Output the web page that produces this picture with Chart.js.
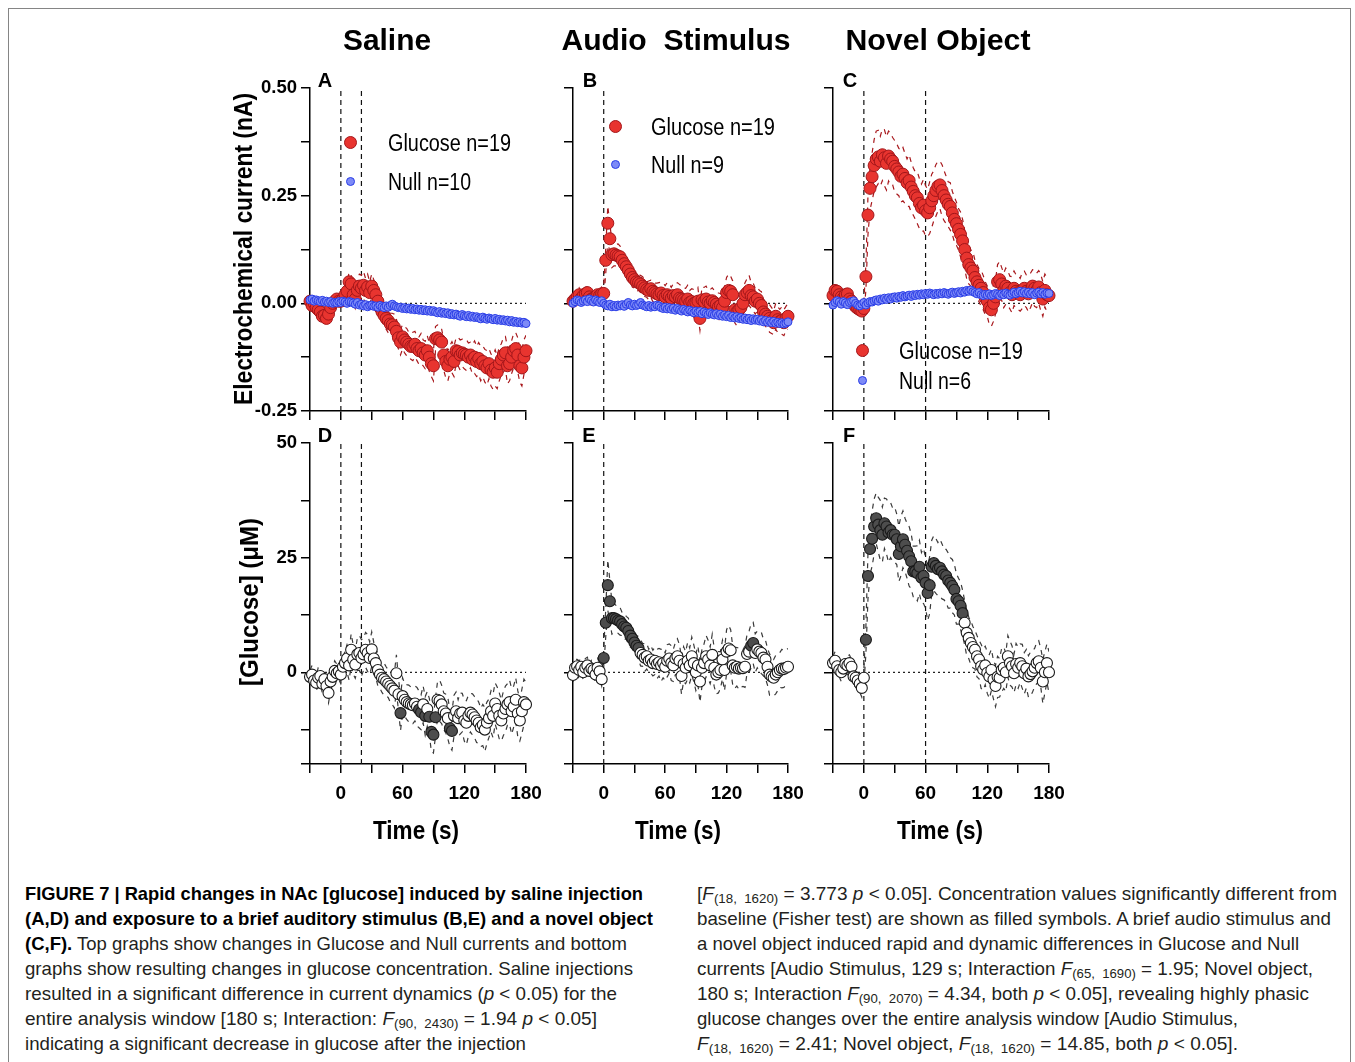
<!DOCTYPE html>
<html>
<head>
<meta charset="utf-8">
<script src="https://cdn.jsdelivr.net/npm/chart.js@4.4.1/dist/chart.umd.min.js"></script>
<style>
  html, body { margin:0; padding:0; background:#fff; width:1355px; height:1062px; overflow:hidden; position:relative; }
  .frame { position:absolute; left:8px; top:8px; width:1343px; height:1100px; border:1.5px solid #858585; box-sizing:border-box; }
  .t { position:absolute; white-space:pre; line-height:1; }
  .title { font-family:'Liberation Sans', Arial, sans-serif; font-weight:bold; font-size:30px; color:#000; }
  .narrowb { font-family:'Liberation Sans', Arial, sans-serif; font-weight:bold; color:#000; }
  .narrow { font-family:'Liberation Sans', Arial, sans-serif; color:#000; }
  .letter { font-family:'Liberation Sans', Arial, sans-serif; font-weight:bold; font-size:20px; color:#000; }
  .cap { font-family:'Liberation Sans', Arial, sans-serif; font-size:19px; color:#231f20; }
  .cap b { color:#000; }
  .cap sub { font-size:70%; vertical-align:-0.3em; line-height:0; }
  .dot { position:absolute; border-radius:50%; box-sizing:border-box; }
  canvas { position:absolute; }
</style>
</head>
<body>
<div class="frame"></div>
<script>
// ---------------- DATA ----------------
const TIME = [-30,-28,-26,-24,-22,-20,-18,-16,-14,-12,
  -10,-8,-6,-4,-2,0,2,4,6,8,
  10,12,14,16,18,20,22,24,26,28,
  30,32,34,36,38,40,42,44,46,48,
  50,52,54,56,58,60,62,64,66,68,
  70,72,74,76,78,80,82,84,86,88,
  90,92,94,96,98,100,102,104,106,108,
  110,112,114,116,118,120,122,124,126,128,
  130,132,134,136,138,140,142,144,146,148,
  150,152,154,156,158,160,162,164,166,168,
  170,172,174,176,178,180];

const X_TICK_LABELS = [0, 60, 120, 180];
const Y_TICK_LABELS_CURRENT = [-0.25, 0, 0.25, 0.5];
const Y_TICK_LABELS_GLUCOSE = [0, 25, 50];

// Saline (A): Glucose current, SEM, Null current (nA)
const glucoseA = [0.005,-0.005,0.000,-0.010,-0.015,-0.020,-0.030,-0.028,-0.035,-0.025,
  -0.010,0.000,0.005,0.010,0.005,0.005,0.010,0.020,0.028,0.050,
  0.045,0.020,0.010,0.030,0.040,0.035,0.042,0.030,0.038,0.025,
  0.040,0.030,0.020,0.005,-0.010,-0.020,-0.028,-0.035,-0.040,-0.048,
  -0.050,-0.055,-0.065,-0.080,-0.090,-0.078,-0.085,-0.090,-0.095,-0.100,
  -0.100,-0.095,-0.105,-0.110,-0.105,-0.115,-0.120,-0.110,-0.125,-0.140,
  -0.145,-0.082,-0.080,-0.085,-0.090,-0.120,-0.135,-0.145,-0.130,-0.125,
  -0.135,-0.110,-0.112,-0.120,-0.115,-0.118,-0.120,-0.125,-0.120,-0.130,
  -0.125,-0.135,-0.128,-0.140,-0.135,-0.145,-0.150,-0.140,-0.155,-0.160,
  -0.150,-0.160,-0.140,-0.130,-0.120,-0.115,-0.145,-0.140,-0.125,-0.110,
  -0.105,-0.120,-0.145,-0.150,-0.125,-0.110];
const semA = [.012,.015,.010,.014,.012,.013,.015,.012,.014,.013,
  .012,.010,.014,.012,.011,.013,.015,.018,.020,.022,
  .020,.018,.022,.025,.028,.030,.032,.028,.030,.025,
  .028,.025,.022,.020,.022,.024,.022,.025,.028,.025,
  .027,.030,.028,.026,.030,.028,.030,.032,.028,.030,
  .033,.030,.028,.032,.035,.030,.032,.035,.033,.030,
  .035,.028,.030,.032,.030,.035,.038,.035,.032,.036,
  .035,.030,.033,.035,.032,.034,.036,.033,.030,.035,
  .038,.035,.037,.040,.036,.038,.040,.035,.037,.040,
  .042,.038,.040,.036,.040,.038,.042,.040,.038,.040,
  .037,.040,.038,.042,.040,.036];
const nullA = [0.008,0.010,0.005,0.008,0.006,0.004,0.007,0.003,0.005,0.002,
  0.004,0.000,0.002,0.001,0.004,0.002,0.005,0.003,0.000,0.004,
  0.003,0.001,-0.002,0.002,-0.004,-0.002,-0.006,-0.003,-0.008,-0.005,
  -0.004,-0.007,-0.006,-0.009,-0.005,-0.008,-0.010,-0.006,-0.009,-0.005,
  -0.002,-0.006,-0.008,-0.010,-0.009,-0.012,-0.010,-0.013,-0.011,-0.014,
  -0.012,-0.015,-0.013,-0.016,-0.014,-0.017,-0.015,-0.018,-0.016,-0.019,
  -0.017,-0.020,-0.022,-0.019,-0.023,-0.021,-0.024,-0.022,-0.026,-0.024,
  -0.027,-0.025,-0.028,-0.030,-0.026,-0.029,-0.031,-0.028,-0.032,-0.030,
  -0.033,-0.031,-0.034,-0.036,-0.032,-0.035,-0.037,-0.034,-0.036,-0.038,
  -0.035,-0.039,-0.037,-0.040,-0.038,-0.041,-0.039,-0.043,-0.040,-0.044,
  -0.042,-0.045,-0.043,-0.046,-0.044,-0.047];

// Audio stimulus (B)
const glucoseB = [0.005,0.010,0.015,0.020,0.012,0.018,0.022,0.025,0.015,0.010,
  0.012,0.015,0.020,0.018,0.022,0.023,0.100,0.186,0.150,0.113,
  0.115,0.112,0.110,0.108,0.100,0.092,0.085,0.077,0.068,0.060,
  0.055,0.050,0.048,0.045,0.040,0.036,0.032,0.030,0.034,0.028,
  0.025,0.022,0.020,0.024,0.018,0.015,0.020,0.016,0.012,0.018,
  0.015,0.020,0.012,0.010,0.008,0.005,0.010,0.002,0.004,0.000,
  0.002,0.005,-0.035,0.008,0.004,0.010,0.003,0.000,0.006,0.002,
  -0.002,-0.008,-0.005,-0.010,0.005,0.025,0.030,0.028,0.020,-0.015,
  -0.020,-0.015,-0.010,0.000,0.020,0.025,0.030,0.018,0.015,0.005,
  0.010,0.000,-0.005,-0.020,-0.025,-0.030,-0.035,-0.040,-0.045,-0.030,
  -0.038,-0.042,-0.040,-0.045,-0.035,-0.030];
const semB = [.012,.015,.013,.016,.014,.012,.015,.013,.014,.012,
  .013,.015,.012,.014,.016,.015,.030,.040,.035,.030,
  .028,.025,.028,.025,.022,.020,.024,.022,.020,.022,
  .020,.022,.018,.020,.022,.020,.018,.022,.020,.024,
  .022,.025,.028,.025,.030,.026,.028,.030,.025,.028,
  .030,.028,.032,.030,.028,.030,.032,.028,.030,.032,
  .030,.032,.028,.030,.033,.030,.028,.032,.030,.028,
  .030,.032,.028,.030,.033,.035,.038,.035,.032,.030,
  .032,.030,.034,.030,.028,.032,.035,.030,.032,.030,
  .028,.030,.032,.030,.028,.030,.032,.030,.028,.030,
  .030,.028,.032,.030,.028,.030];
const nullB = [0.000,0.004,0.008,0.006,0.002,0.005,0.008,0.004,0.010,0.006,
  0.003,0.008,0.005,0.002,0.006,0.000,-0.004,-0.006,-0.002,-0.008,
  -0.005,-0.008,-0.004,-0.006,-0.003,-0.007,-0.002,0.002,-0.004,-0.006,
  -0.002,-0.005,-0.003,0.002,-0.004,-0.006,-0.008,-0.005,-0.009,-0.006,
  -0.008,-0.004,-0.006,-0.010,-0.012,-0.009,-0.013,-0.010,-0.014,-0.011,
  -0.016,-0.012,-0.015,-0.018,-0.014,-0.017,-0.020,-0.016,-0.019,-0.022,
  -0.018,-0.021,-0.019,-0.024,-0.020,-0.023,-0.026,-0.022,-0.025,-0.027,
  -0.024,-0.028,-0.025,-0.030,-0.027,-0.031,-0.028,-0.033,-0.030,-0.034,
  -0.031,-0.035,-0.033,-0.037,-0.034,-0.038,-0.035,-0.040,-0.036,-0.039,
  -0.037,-0.041,-0.038,-0.043,-0.040,-0.044,-0.041,-0.045,-0.042,-0.046,
  -0.044,-0.047,-0.045,-0.048,-0.046,-0.043];

// Novel object (C)
const glucoseC = [0.018,0.030,0.028,0.020,0.015,0.012,0.020,0.022,0.010,0.005,
  -0.002,-0.008,-0.012,-0.015,-0.018,-0.012,0.062,0.205,0.267,0.294,
  0.320,0.335,0.340,0.330,0.345,0.338,0.325,0.342,0.335,0.330,
  0.318,0.312,0.305,0.295,0.300,0.290,0.280,0.285,0.270,0.260,
  0.250,0.245,0.232,0.222,0.228,0.215,0.210,0.222,0.238,0.250,
  0.262,0.272,0.275,0.262,0.250,0.240,0.230,0.225,0.210,0.195,
  0.185,0.172,0.160,0.145,0.125,0.105,0.090,0.082,0.075,0.060,
  0.050,0.042,0.035,0.025,0.012,0.005,-0.010,-0.015,0.000,0.015,
  0.050,0.055,0.045,0.030,0.040,0.035,0.025,0.020,0.035,0.028,
  0.025,0.020,0.030,0.035,0.028,0.022,0.030,0.040,0.035,0.030,
  0.038,0.025,0.010,0.030,0.020,0.018];
const semC = [.012,.015,.012,.014,.012,.015,.013,.012,.014,.012,
  .012,.014,.015,.012,.014,.015,.030,.045,.050,.055,
  .060,.065,.062,.058,.060,.065,.062,.058,.060,.055,
  .060,.058,.055,.060,.062,.058,.055,.060,.058,.055,
  .055,.060,.058,.055,.060,.058,.055,.060,.062,.058,
  .060,.058,.055,.060,.058,.055,.052,.055,.050,.052,
  .050,.048,.052,.050,.045,.048,.045,.042,.045,.040,
  .040,.038,.042,.040,.038,.035,.040,.038,.042,.040,
  .040,.042,.038,.040,.042,.040,.038,.042,.040,.038,
  .040,.038,.042,.040,.038,.042,.040,.038,.042,.040,
  .038,.042,.040,.038,.040,.042];
const nullC = [-0.004,0.002,0.006,0.003,-0.002,0.004,0.001,-0.003,0.002,0.004,
  0.006,0.000,-0.004,-0.006,-0.002,0.002,-0.004,0.001,0.004,0.003,
  0.006,0.008,0.005,0.010,0.008,0.012,0.009,0.013,0.010,0.014,
  0.015,0.012,0.016,0.014,0.018,0.015,0.017,0.019,0.016,0.020,
  0.018,0.021,0.019,0.022,0.020,0.023,0.021,0.024,0.022,0.020,
  0.023,0.021,0.024,0.022,0.025,0.023,0.021,0.024,0.026,0.023,
  0.025,0.027,0.024,0.028,0.026,0.030,0.028,0.031,0.027,0.025,
  0.022,0.025,0.020,0.018,0.021,0.019,0.022,0.018,0.020,0.023,
  0.021,0.018,0.022,0.020,0.024,0.021,0.019,0.023,0.026,0.022,
  0.025,0.028,0.024,0.027,0.023,0.026,0.022,0.025,0.020,0.024,
  0.026,0.022,0.025,0.021,0.024,0.023];

// [Glucose] (uM), SEM, and times of filled (significant) symbols
const concD = [-1.0,-0.5,-1.8,-2.3,-1.2,-0.8,-2.5,-1.5,-3.0,-4.5,
  -2.0,-1.0,0.3,-0.2,0.2,-0.5,1.2,2.0,3.0,1.5,
  4.9,2.8,1.7,3.9,4.2,3.1,3.9,4.9,4.2,3.1,
  5.0,3.0,2.0,0.5,-0.5,-1.2,-1.5,-2.0,-2.5,-3.0,
  -3.5,-4.0,-0.2,-4.8,-8.9,-5.2,-6.0,-6.5,-6.8,-7.0,
  -7.2,-6.8,-7.5,-8.1,-8.7,-7.0,-9.5,-8.0,-9.7,-13.0,
  -13.6,-9.8,-6.0,-6.2,-7.0,-8.5,-9.0,-10.0,-12.2,-12.8,
  -9.5,-8.5,-10.0,-9.0,-8.8,-10.5,-11.0,-9.5,-8.8,-9.2,
  -9.8,-10.5,-11.0,-12.0,-11.5,-12.5,-11.0,-10.0,-8.5,-9.5,
  -6.8,-8.0,-9.5,-10.5,-9.0,-8.0,-7.0,-6.5,-8.5,-7.5,
  -6.0,-9.0,-10.5,-8.5,-6.5,-7.0];
const semD = [1.5,2.0,1.8,1.5,2.2,1.8,2.0,1.5,1.8,2.2,
  2.0,1.8,2.2,2.0,1.8,2.0,2.2,2.5,3.0,3.2,
  3.5,3.2,3.0,3.5,3.8,4.0,3.5,3.8,4.0,3.5,
  3.8,3.5,3.2,3.5,3.0,3.2,3.5,3.2,3.0,3.5,
  3.5,3.8,4.0,3.5,3.8,4.0,3.5,3.8,4.0,3.8,
  4.0,3.8,4.2,4.0,3.8,4.0,4.2,3.8,4.0,4.2,
  4.0,4.2,4.0,4.5,4.2,4.0,4.2,4.5,4.0,4.2,
  4.5,4.2,4.0,4.5,4.2,4.5,4.8,4.5,4.2,4.5,
  4.5,4.8,4.5,4.2,4.5,4.8,4.5,4.2,4.5,4.8,
  4.5,4.8,5.0,4.5,4.8,5.0,4.5,4.8,5.0,4.5,
  4.8,5.0,4.5,4.8,5.0,4.8];
const filledD = [58,76,78,82,86,88,90,92,106,108];

const concE = [-0.6,1.0,1.3,0.5,1.2,0.0,1.0,1.5,0.3,0.8,
  0.5,-0.5,1.0,0.2,-1.5,3.1,10.8,19.0,15.5,11.8,
  11.8,11.6,11.3,11.1,10.5,10.0,9.7,9.0,8.0,7.3,
  6.5,5.8,5.3,4.2,3.8,3.2,3.5,2.5,2.8,2.0,
  2.5,1.8,2.2,1.5,2.0,1.2,2.5,3.0,2.0,1.5,
  3.0,3.5,2.5,-0.8,1.8,1.0,2.5,1.5,3.5,2.0,
  0.0,1.5,-2.0,1.0,2.0,3.5,2.8,1.5,3.8,1.0,
  -0.5,0.0,0.5,2.8,0.5,4.5,5.2,4.8,1.5,1.0,
  1.2,0.8,1.0,0.9,1.2,4.0,4.5,5.8,6.4,4.2,
  5.0,4.5,4.2,3.2,2.8,1.2,-0.5,-0.9,-1.2,-0.5,
  0.0,0.5,0.8,0.7,1.0,1.2];
const semE = [1.5,1.8,1.5,2.0,1.8,1.5,2.0,1.8,1.5,1.8,
  1.5,1.8,2.0,1.8,1.5,2.0,3.0,5.5,4.5,3.5,
  3.2,3.0,2.8,3.0,2.5,2.8,2.5,2.8,2.5,2.2,
  2.5,2.2,2.5,2.8,2.5,3.0,2.8,2.5,3.0,2.8,
  3.0,3.2,3.0,3.5,3.2,3.0,3.5,3.2,3.8,3.5,
  3.5,3.8,3.5,4.0,3.8,3.5,4.0,3.8,4.2,4.0,
  4.0,4.2,4.5,4.0,4.2,4.5,4.2,4.0,4.5,4.2,
  4.2,4.5,4.0,4.2,4.5,4.8,5.0,4.5,4.2,4.5,
  4.2,4.5,4.2,4.0,4.5,4.2,4.5,4.8,4.5,4.2,
  4.0,4.2,4.5,4.0,4.2,4.0,4.5,4.2,4.0,4.2,
  4.0,3.8,4.2,4.0,3.8,4.0];
const filledE = [0,2,4,6,8,10,12,14,16,18,20,22,24,26,28,30,32,34,144,146];

const concF = [2.0,2.5,1.3,0.5,0.0,0.8,1.8,1.5,2.0,1.2,
  -0.9,-1.2,-1.8,-2.5,-3.4,-1.2,7.1,21.0,26.9,29.1,
  31.8,33.6,32.2,31.0,30.0,32.5,31.8,30.5,31.0,30.0,
  30.0,29.0,25.8,27.5,29.0,27.8,26.5,25.3,24.2,22.0,
  22.0,21.6,23.0,20.6,21.0,19.5,17.3,19.0,23.0,23.8,
  23.2,22.5,22.8,22.0,21.3,21.0,20.0,19.5,18.8,18.0,
  16.0,15.5,14.5,12.9,10.8,8.6,7.5,6.4,5.5,4.9,
  3.5,2.8,1.3,0.6,1.5,-0.1,-0.9,0.5,-1.6,-3.0,
  -1.0,-1.2,0.5,1.0,0.0,3.5,2.0,1.3,-0.2,1.8,
  1.0,2.0,1.3,-0.2,0.8,-0.9,-0.4,0.2,1.0,2.0,
  2.4,1.0,-2.0,0.0,2.0,0.0];
const semF = [1.5,2.0,1.8,1.5,2.0,1.8,1.5,2.0,1.8,1.5,
  1.8,2.0,1.5,1.8,2.0,1.8,3.0,5.0,5.5,6.0,
  6.0,5.5,6.0,6.5,6.0,5.5,6.0,6.5,6.0,5.8,
  6.0,5.5,6.0,6.5,6.2,5.8,6.0,6.5,6.0,5.5,
  5.5,6.0,5.8,5.5,6.0,5.5,6.0,6.2,5.8,6.0,
  6.0,5.8,6.2,6.0,5.5,5.8,6.0,5.5,5.8,5.5,
  5.5,5.0,5.2,5.0,4.8,5.0,4.5,4.8,4.5,4.2,
  4.5,4.2,4.8,4.5,4.2,4.5,4.8,4.5,4.2,4.5,
  4.5,4.2,4.8,4.5,4.2,4.5,4.8,4.5,4.2,4.5,
  4.5,4.2,4.8,4.5,4.2,4.5,4.8,4.5,4.2,4.5,
  4.5,4.2,4.8,4.5,4.2,4.5];
const filledF = [2,4,6,8,10,12,14,16,18,20,22,24,26,28,30,32,34,36,38,40,42,44,46,48,
  50,52,54,56,58,60,62,64,66,68,70,72,74,76,78,80,82,84,86,88,90,92,94,96];

// Event markers (s)
const eventsSaline = [0, 20];
const eventsAudio = [0];
const eventsNovel = [0, 60];

// ---------------- STYLE ----------------
const SANS = "'Liberation Sans', Arial, sans-serif";
const RED = '#e8342f', RED_EDGE = '#a3161a', BAND_RED = '#a8181c';
const BLUE = '#7d8af7', BLUE_EDGE = '#2a3de6';

const pts = (vals) => TIME.map((t, i) => ({x: t, y: vals[i]}));
const band = (vals, sem, s) => TIME.map((t, i) => ({x: t, y: vals[i] + s * sem[i]}));

function refLines(events, ymin, ymax) {
  const ds = events.map(e => ({
    data: [{x: e, y: ymin}, {x: e, y: ymax}], showLine: true, pointRadius: 0,
    borderColor: '#111', borderWidth: 1.2, borderDash: [5, 4], order: 10, clip: false
  }));
  ds.push({ data: [{x: -30, y: 0}, {x: 180, y: 0}], showLine: true, pointRadius: 0,
    borderColor: '#222', borderWidth: 1.2, borderDash: [2, 3], order: 9 });
  return ds;
}
function bandSets(vals, sem, color) {
  return [1, -1].map(s => ({ data: band(vals, sem, s), showLine: true, pointRadius: 0,
    borderColor: color, borderWidth: 1.2, borderDash: [5, 5], order: 5 }));
}
function currentSets(g, s, n, events) {
  return [
    ...refLines(events, -0.25, 0.5),
    ...bandSets(g, s, BAND_RED),
    { data: pts(g), pointRadius: 6, pointBackgroundColor: RED, pointBorderColor: RED_EDGE, pointBorderWidth: 1, order: 2, clip: false },
    { data: pts(n), pointRadius: 4, pointBackgroundColor: BLUE, pointBorderColor: BLUE_EDGE, pointBorderWidth: 1, order: 1, clip: false }
  ];
}
function concSets(c, s, filled, events) {
  return [
    ...refLines(events, -20, 50),
    ...bandSets(c, s, '#3a3a3a'),
    { data: pts(c), pointRadius: 5.5,
      pointBackgroundColor: TIME.map(t => filled.includes(t) ? '#4d4d4d' : '#ffffff'),
      pointBorderColor: '#1a1a1a', pointBorderWidth: 1.1, order: 1, clip: false }
  ];
}

const panels = [
  {L:310, R:526, T:88,  B:411, ymin:-0.25, ymax:0.5, step:0.125, ylab:Y_TICK_LABELS_CURRENT, showY:true,  showX:false, sets: currentSets(glucoseA, semA, nullA, eventsSaline)},
  {L:573, R:788, T:88,  B:411, ymin:-0.25, ymax:0.5, step:0.125, ylab:Y_TICK_LABELS_CURRENT, showY:false, showX:false, sets: currentSets(glucoseB, semB, nullB, eventsAudio)},
  {L:833, R:1049,T:88,  B:411, ymin:-0.25, ymax:0.5, step:0.125, ylab:Y_TICK_LABELS_CURRENT, showY:false, showX:false, sets: currentSets(glucoseC, semC, nullC, eventsNovel)},
  {L:310, R:526, T:443, B:764, ymin:-20, ymax:50, step:12.5, ylab:Y_TICK_LABELS_GLUCOSE, showY:true,  showX:true, sets: concSets(concD, semD, filledD, eventsSaline)},
  {L:573, R:788, T:443, B:764, ymin:-20, ymax:50, step:12.5, ylab:Y_TICK_LABELS_GLUCOSE, showY:false, showX:true, sets: concSets(concE, semE, filledE, eventsAudio)},
  {L:833, R:1049,T:443, B:764, ymin:-20, ymax:50, step:12.5, ylab:Y_TICK_LABELS_GLUCOSE, showY:false, showX:true, sets: concSets(concF, semF, filledF, eventsNovel)}
];

const near = (v, list) => list.some(l => Math.abs(v - l) < 1e-6);

function makePanel(p) {
  const w = p.R - p.L + 130, h = p.B - p.T + 110;
  const cv = document.createElement('canvas');
  cv.width = w; cv.height = h;
  cv.style.left = (p.L - 100) + 'px'; cv.style.top = (p.T - 40) + 'px';
  cv.style.width = w + 'px'; cv.style.height = h + 'px';
  document.body.appendChild(cv);
  const axisCommon = {
    grid: { drawOnChartArea: false, drawTicks: true, tickLength: 9, color: '#000', lineWidth: 1.5 },
    border: { display: true, color: '#000', width: 1.5 }
  };
  new Chart(cv, {
    type: 'scatter',
    data: { datasets: p.sets },
    options: {
      responsive: false, animation: false, devicePixelRatio: 1,
      layout: { padding: { left: 0, right: 30, top: 40, bottom: 0 }, autoPadding: false },
      plugins: { legend: { display: false }, tooltip: { enabled: false } },
      events: [],
      scales: {
        x: { type: 'linear', min: -30, max: 180, ...axisCommon,
          afterFit: s => { s.height = 70; },
          ticks: { stepSize: 30, autoSkip: false, maxRotation: 0, padding: 9, color: '#000',
            font: { family: SANS, size: 19, weight: 'bold' },
            callback: v => (p.showX && near(v, X_TICK_LABELS)) ? String(v) : '' } },
        y: { type: 'linear', min: p.ymin, max: p.ymax, ...axisCommon,
          afterFit: s => { s.width = 100; },
          ticks: { stepSize: p.step, autoSkip: false, padding: 4, color: '#000',
            font: { family: SANS, size: 18.5, weight: 'bold' },
            callback: v => (p.showY && near(v, p.ylab)) ? (p.step < 1 ? Number(v).toFixed(2) : String(v)) : '' } }
      }
    }
  });
}

// ---------------- TEXT ----------------
function addText(html, cls, x, y, opts) {
  const d = document.createElement('div');
  d.className = 't ' + cls;
  d.innerHTML = html;
  if (opts.size) d.style.fontSize = opts.size + 'px';
  d.style.left = x + 'px'; d.style.top = y + 'px';
  document.body.appendChild(d);
  const natural = d.getBoundingClientRect().width;
  const s = opts.width ? opts.width / natural : 1;
  if (opts.rotate) {
    d.style.transform = `translate(-50%,-50%) rotate(-90deg) scaleX(${s})`;
  } else if (opts.center) {
    d.style.transform = `translate(-50%,-50%) scaleX(${s})`;
  } else {
    d.style.transformOrigin = '0 0';
    d.style.transform = `scaleX(${s}) translateY(-50%)`;
  }
  return d;
}
function addDot(cx, cy, dia, fill, edge) {
  const d = document.createElement('div');
  d.className = 'dot';
  Object.assign(d.style, { left: (cx - dia / 2) + 'px', top: (cy - dia / 2) + 'px', width: dia + 'px', height: dia + 'px',
    background: fill, border: '1px solid ' + edge });
  document.body.appendChild(d);
}

function drawTexts() {
  addText('Saline', 'title', 387, 40, {center: true, width: 88});
  addText('Audio  Stimulus', 'title', 675.5, 40, {center: true, width: 229});
  addText('Novel Object', 'title', 937.5, 40, {center: true, width: 185});

  [['A',325,80],['B',590,80],['C',850,80],['D',325,435],['E',589,435],['F',849,435]]
    .forEach(([l, x, y]) => addText(l, 'letter', x, y, {center: true}));

  addText('Electrochemical current (nA)', 'narrowb', 243, 249, {rotate: true, size: 25, width: 312});
  addText('[Glucose] (μM)', 'narrowb', 249, 602, {rotate: true, size: 25, width: 168});
  [416, 678, 940].forEach(x => addText('Time (s)', 'narrowb', x, 830, {center: true, size: 25, width: 86}));

  // legends
  const leg = [
    [350, 142, 388, 'Glucose n=19', 123, 181, 'Null n=10', 83],
    [615, 126, 651, 'Glucose n=19', 124, 164, 'Null n=9', 73],
    [862, 350, 899, 'Glucose n=19', 124, 380, 'Null n=6', 72]
  ];
  leg.forEach(([cx, y1, tx, t1, w1, y2, t2, w2]) => {
    addDot(cx, y1, 13, RED, RED_EDGE);
    addDot(cx, y2, 9, BLUE, BLUE_EDGE);
    addText(t1, 'narrow', tx, y1 + 1, {size: 23, width: w1});
    addText(t2, 'narrow', tx, y2 + 1, {size: 23, width: w2});
  });

  // caption
  const left = [
    ['<b>FIGURE 7 | Rapid changes in NAc [glucose] induced by saline injection</b>', 618],
    ['<b>(A,D) and exposure to a brief auditory stimulus (B,E) and a novel object</b>', 628],
    ['<b>(C,F).</b> Top graphs show changes in Glucose and Null currents and bottom', 602],
    ['graphs show resulting changes in glucose concentration. Saline injections', 608],
    ['resulted in a significant difference in current dynamics (<i>p</i> &lt; 0.05) for the', 592],
    ['entire analysis window [180 s; Interaction: <i>F</i><sub>(90,  2430)</sub> = 1.94 <i>p</i> &lt; 0.05]', 572],
    ['indicating a significant decrease in glucose after the injection', 501]
  ];
  const right = [
    ['[<i>F</i><sub>(18,  1620)</sub> = 3.773 <i>p</i> &lt; 0.05]. Concentration values significantly different from', 640],
    ['baseline (Fisher test) are shown as filled symbols. A brief audio stimulus and', 634],
    ['a novel object induced rapid and dynamic differences in Glucose and Null', 602],
    ['currents [Audio Stimulus, 129 s; Interaction <i>F</i><sub>(65,  1690)</sub> = 1.95; Novel object,', 616],
    ['180 s; Interaction <i>F</i><sub>(90,  2070)</sub> = 4.34, both <i>p</i> &lt; 0.05], revealing highly phasic', 612],
    ['glucose changes over the entire analysis window [Audio Stimulus,', 541],
    ['<i>F</i><sub>(18,  1620)</sub> = 2.41; Novel object, <i>F</i><sub>(18,  1620)</sub> = 14.85, both <i>p</i> &lt; 0.05].', 541]
  ];
  const ys = [893, 918, 943, 968, 993, 1018, 1043];
  left.forEach(([h, w], i) => addText(h, 'cap', 25, ys[i], {width: w}));
  right.forEach(([h, w], i) => addText(h, 'cap', 697, ys[i], {width: w}));
}

function start() {
  panels.forEach(makePanel);
  drawTexts();
}
if (document.fonts && document.fonts.ready) document.fonts.ready.then(start); else start();
</script>
</body>
</html>
